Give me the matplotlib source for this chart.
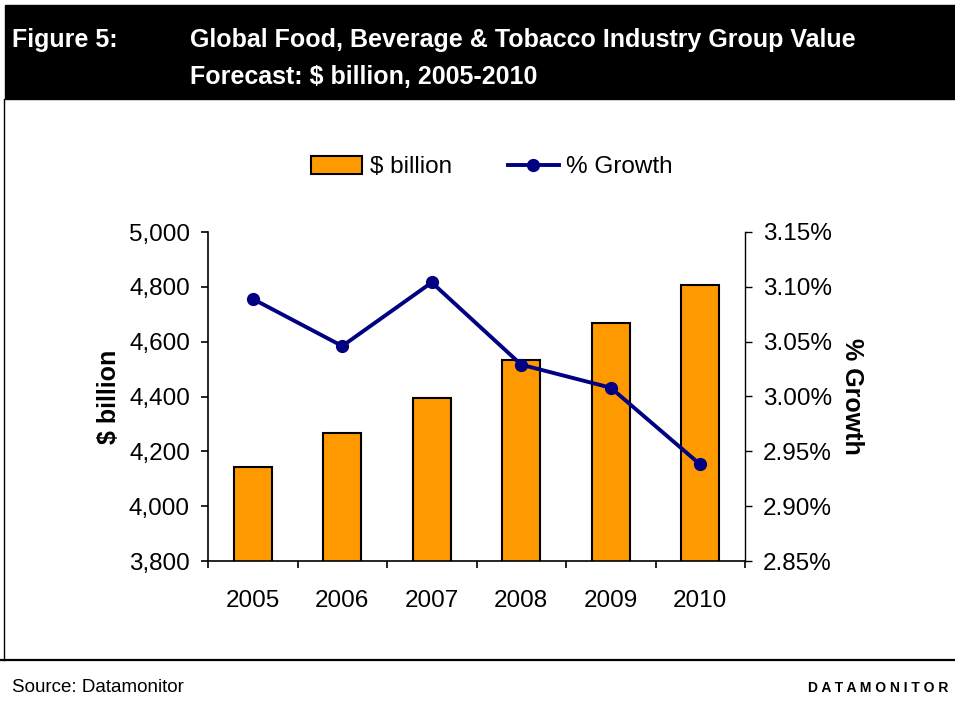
import matplotlib.pyplot as plt
from matplotlib.patches import Rectangle
from matplotlib.ticker import FuncFormatter, MultipleLocator

plt.rcParams['font.family'] = ['Liberation Sans', 'DejaVu Sans']

# Werte
jahre = ['2005', '2006', '2007', '2008', '2009', '2010']
umsatz = [4142, 4268, 4396, 4534, 4669, 4808]          # $ billion
wachstum = [3.089, 3.046, 3.104, 3.029, 3.008, 2.938]   # % Growth

ORANGE = '#FF9900'
NAVY = '#000080'

fig = plt.figure(figsize=(9.55, 7.02), dpi=100)
W, H = 955, 702

# Kopfzeile (schwarzer Balken)
fig.patches.append(Rectangle((5 / W, 1 - 99 / H), 1 - 5 / W, 94 / H,
                             transform=fig.transFigure, color='black', zorder=0))
fig.text(12 / W, 1 - 40 / H, 'Figure 5:', color='white', fontsize=18,
         fontweight='bold', va='center')
fig.text(190 / W, 1 - 40 / H, 'Global Food, Beverage & Tobacco Industry Group Value',
         color='white', fontsize=18, fontweight='bold', va='center')
fig.text(190 / W, 1 - 77 / H, 'Forecast: $ billion, 2005-2010', color='white',
         fontsize=18, fontweight='bold', va='center')

# Rahmenlinien
fig.add_artist(plt.Line2D([4 / W, 4 / W], [1 - 99 / H, 1 - 660 / H], color='black', lw=1))
fig.add_artist(plt.Line2D([0, 1], [1 - 660 / H, 1 - 660 / H], color='black', lw=1.6))

# Fusszeile
fig.text(12 / W, 1 - 688 / H, 'Source: Datamonitor', fontsize=13.5, va='center')
fig.text(948 / W, 1 - 688 / H, 'D A T A M O N I T O R', fontsize=10,
         fontweight='bold', va='center', ha='right')

# Diagramm
ax = fig.add_axes([208 / W, 1 - 561 / H, (745 - 208) / W, (561 - 232) / H])
x = list(range(len(jahre)))
balken = ax.bar(x, umsatz, width=0.42, color=ORANGE, edgecolor='black',
                linewidth=1.5, label='$ billion', zorder=2)
ax.set_ylim(3800, 5000)
ax.set_xlim(-0.5, len(jahre) - 0.5)
ax.yaxis.set_major_locator(MultipleLocator(200))
ax.yaxis.set_major_formatter(FuncFormatter(lambda v, p: f'{v:,.0f}'))
ax.set_xticks([i - 0.5 for i in range(len(jahre) + 1)])
ax.set_xticklabels([])
ax.set_xticks(x, minor=True)
ax.set_xticklabels(jahre, minor=True)
ax.tick_params(axis='x', which='minor', length=0, labelsize=17.5, pad=21)
ax.tick_params(axis='x', which='major', length=5, width=1.2, direction='out')
ax.tick_params(axis='y', length=5, width=1.2, direction='out', labelsize=17.5, pad=8)
for s in ['top', 'right']:
    ax.spines[s].set_visible(False)
ax.spines['left'].set_linewidth(1.2)
ax.spines['bottom'].set_linewidth(1.2)
ax.set_ylabel('$ billion', fontsize=18, fontweight='bold', labelpad=6)

ax2 = ax.twinx()
linie, = ax2.plot(x, wachstum, color=NAVY, lw=2.8, marker='o', markersize=8.5,
                  label='% Growth', zorder=3)
ax2.set_ylim(2.85, 3.15)
ax2.yaxis.set_major_locator(MultipleLocator(0.05))
ax2.yaxis.set_major_formatter(FuncFormatter(lambda v, p: f'{v:.2f}%'))
ax2.tick_params(axis='y', length=5, width=1, direction='out', labelsize=17.5, pad=8)
for s in ['top', 'left', 'bottom']:
    ax2.spines[s].set_visible(False)
ax2.spines['right'].set_linewidth(1)
ax2.set_ylabel('% Growth', fontsize=18, fontweight='bold', rotation=-90, labelpad=23)

fig.legend([balken, linie], ['$ billion', '% Growth'], loc='center',
           bbox_to_anchor=(492 / W, 1 - 167 / H), ncol=2, frameon=False,
           fontsize=17.5, handlelength=2.1, handleheight=0.8, columnspacing=2.3,
           handletextpad=0.3)

fig.savefig('out.png', dpi=100)
